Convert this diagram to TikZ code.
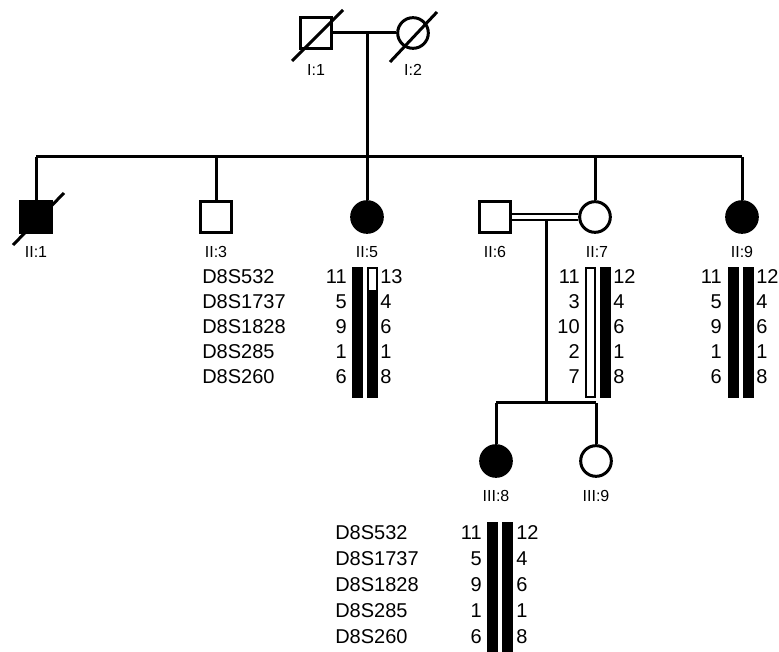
\documentclass[tikz,border=0pt]{standalone}
\usepackage{fontspec}
\setmainfont{Liberation Sans}
\usetikzlibrary{positioning}

\tikzset{
  male/.style={draw,line width=2.25pt,minimum size=23pt,inner sep=0pt,fill=white},
  female/.style={circle,draw,line width=2.25pt,minimum size=23pt,inner sep=0pt,fill=white},
  affected/.style={fill=black},
  pid/.style={font=\fontsize{12}{14}\selectfont,inner sep=0pt},
  marker/.style={font=\fontsize{15}{18}\selectfont,inner sep=0pt,anchor=west},
  allele/.style={font=\fontsize{15}{18}\selectfont,inner sep=0pt},
  line/.style={line width=2.25pt},
  hapbar/.style={draw,line width=1.1pt}
}

\begin{document}
\begin{tikzpicture}[x=0.75pt,y=-0.75pt]
\useasboundingbox (0,0) rectangle (779,652);
% generation I
\node[male] (I1) at (316,33) {};
\node[female] (I2) at (413,33) {};
\draw[line] (I1) -- (I2);
\draw[line] ([shift={(-24,28)}]I1.center) -- ([shift={(27,-23)}]I1.center);
\draw[line] ([shift={(-23,29)}]I2.center) -- ([shift={(24,-21)}]I2.center);
\node[pid] (lI1) at (316,70) {I:1};
\node[pid] (lI2) at (413,70) {I:2};
\coordinate (m1) at (367,33);
\coordinate (s1) at (367,157);
\draw[line] (m1) -- (s1);

% generation II
\node[male,affected] (II1) at (36,217) {};
\node[male] (II3) at (216,217) {};
\node[female,affected] (II5) at (367,217) {};
\node[male] (II6) at (495,217) {};
\node[female] (II7) at (595,217) {};
\node[female,affected] (II9) at (742,217) {};
\draw[line] ([shift={(-23,28)}]II1.center) -- ([shift={(28,-24)}]II1.center);
\draw[line] (II1.north |- s1) -- (II9.north |- s1);
\foreach \p in {II1,II3,II5,II7,II9}
  \draw[line] (\p.north) -- (\p.north |- s1);
\node[pid] (lII1) at (36,252) {II:1};
\node[pid] (lII3) at (216,252) {II:3};
\node[pid] (lII5) at (367,252) {II:5};
\node[pid] (lII6) at (495,252) {II:6};
\node[pid] (lII7) at (597,252) {II:7};
\node[pid] (lII9) at (742,252) {II:9};
% consanguineous mating
\draw[line width=1.5pt,double,double distance=3pt] (II6) -- (II7);
\coordinate (m2) at (546,220);
\coordinate (s2) at (546,403);
\draw[line] (m2) -- (s2);

% generation III
\node[female,affected] (III8) at (496,461) {};
\node[female] (III9) at (596,461) {};
\draw[line] (III8.north |- s2) -- (III9.north |- s2);
\draw[line] (III8.north) -- (III8.north |- s2);
\draw[line] (III9.north) -- (III9.north |- s2);
\node[pid] (lIII8) at (496,496) {III:8};
\node[pid] (lIII9) at (596,496) {III:9};

% haplotypes II:5
\foreach \m [count=\i from 0] in {D8S532,D8S1737,D8S1828,D8S285,D8S260}
  \node[marker] (mkA\i) at (202,277+25*\i) {\m};
\foreach \a/\b [count=\i from 0] in {11/13,5/4,9/6,1/1,6/8} {
  \node[allele,anchor=east] (hA\i) at (347,277+25*\i) {\a};
  \node[allele,anchor=west] (hB\i) at (380,277+25*\i) {\b};
}
\draw[hapbar,fill=black] (353,268) rectangle (362,397);
\draw[hapbar,fill=white] (368,268) rectangle (377,397);
\fill (368,290) rectangle (377,397);

% haplotypes II:7
\foreach \a/\b [count=\i from 0] in {11/12,3/4,10/6,2/1,7/8} {
  \node[allele,anchor=east] (hC\i) at (580,277+25*\i) {\a};
  \node[allele,anchor=west] (hD\i) at (613,277+25*\i) {\b};
}
\draw[hapbar,fill=white] (586,268) rectangle (595,397);
\draw[hapbar,fill=black] (601,268) rectangle (610,397);

% haplotypes II:9
\foreach \a/\b [count=\i from 0] in {11/12,5/4,9/6,1/1,6/8} {
  \node[allele,anchor=east] (hE\i) at (722,277+25*\i) {\a};
  \node[allele,anchor=west] (hF\i) at (756,277+25*\i) {\b};
}
\draw[hapbar,fill=black] (729,268) rectangle (738,397);
\draw[hapbar,fill=black] (744,268) rectangle (753,397);

% haplotypes III:8
\foreach \m [count=\i from 0] in {D8S532,D8S1737,D8S1828,D8S285,D8S260}
  \node[marker] (mkB\i) at (335,533+26*\i) {\m};
\foreach \a/\b [count=\i from 0] in {11/12,5/4,9/6,1/1,6/8} {
  \node[allele,anchor=east] (hG\i) at (482,533+26*\i) {\a};
  \node[allele,anchor=west] (hH\i) at (516,533+26*\i) {\b};
}
\draw[hapbar,fill=black] (488,523) rectangle (497,652);
\draw[hapbar,fill=black] (503,523) rectangle (512,652);
\end{tikzpicture}
\end{document}
